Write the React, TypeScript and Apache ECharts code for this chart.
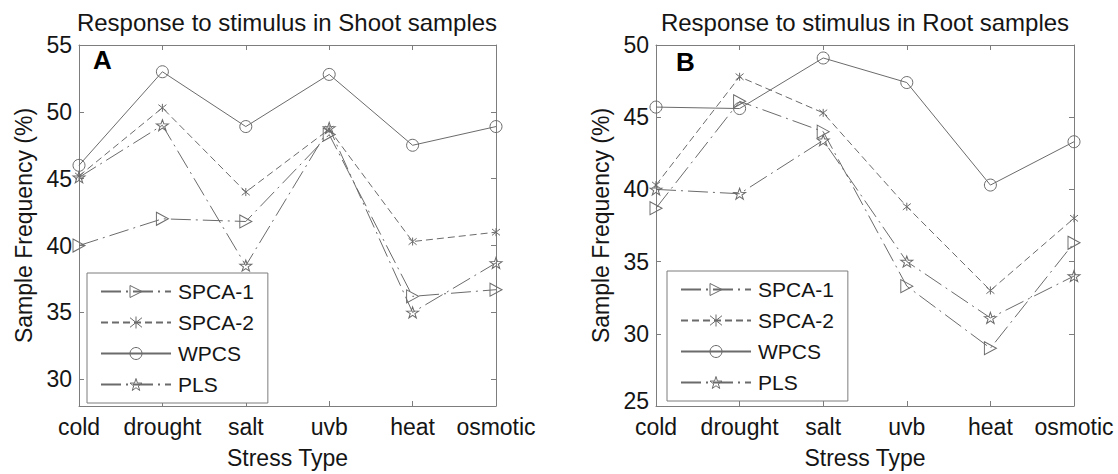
import React, { useEffect, useRef } from "react";
import * as echarts from "echarts";

const categories = ["cold", "drought", "salt", "uvb", "heat", "osmotic"];
const seriesNames = ["SPCA-1", "SPCA-2", "WPCS", "PLS"];

// Shoot samples (panel A)
const shootSPCA1 = [40.0, 42.0, 41.8, 48.3, 36.2, 36.7];
const shootSPCA2 = [45.2, 50.3, 44.0, 48.7, 40.3, 41.0];
const shootWPCS = [46.0, 53.0, 48.9, 52.8, 47.5, 48.9];
const shootPLS = [45.1, 49.0, 38.5, 48.8, 35.0, 38.7];

// Root samples (panel B)
const rootSPCA1 = [38.7, 46.1, 44.0, 33.3, 29.0, 36.3];
const rootSPCA2 = [40.3, 47.8, 45.3, 38.8, 33.0, 38.0];
const rootWPCS = [45.7, 45.6, 49.1, 47.4, 40.3, 43.3];
const rootPLS = [40.0, 39.7, 43.4, 35.0, 31.1, 34.0];

const shootRange = [28, 55];
const rootRange = [25, 50];

const titles = ["Response to stimulus in Shoot samples", "Response to stimulus in Root samples"];
const panelLetters = ["A", "B"];
const xName = "Stress Type";
const yName = "Sample Frequency (%)";

const FONT = "'Liberation Sans', Arial, Helvetica, sans-serif";
const LINE = "#6b6b6b";
const AXIS = "#7d7d7d";
const TEXT = "#151515";
const HOLLOW = "rgba(255,255,255,0)";

function starPath(): string {
  const pts: string[] = [];
  for (let k = 0; k < 10; k++) {
    const a = (-90 + k * 36) * Math.PI / 180;
    const r = k % 2 === 0 ? 10 : 3.9;
    pts.push(`${(10 + r * Math.cos(a)).toFixed(2)},${(10 + r * Math.sin(a)).toFixed(2)}`);
  }
  return "path://M" + pts.join("L") + "Z";
}

const seriesStyles: any = {
  "SPCA-1": { symbol: "path://M0,0L10,5L0,10Z", symbolSize: [12, 13], dash: [20, 5, 2, 5] },
  "SPCA-2": { symbol: "path://M1,1L9,9M9,1L1,9M5,0L5,10", symbolSize: 8, dash: [7, 4] },
  "WPCS": { symbol: "circle", symbolSize: 12, dash: "solid" },
  "PLS": { symbol: starPath(), symbolSize: [12, 11], dash: [20, 5, 2, 5] },
};

export default function App() {
  const ref = useRef<HTMLDivElement>(null);
  useEffect(() => {
    if (!ref.current) return;
    const chart = echarts.init(ref.current, null, { renderer: "svg" });

    const grids = [
      { left: 79, top: 45, width: 417, height: 362 },
      { left: 656, top: 45, width: 418, height: 362 },
    ];
    const ranges = [shootRange, rootRange];
    const dataSets = [
      [shootSPCA1, shootSPCA2, shootWPCS, shootPLS],
      [rootSPCA1, rootSPCA2, rootWPCS, rootPLS],
    ];

    const xAxis: any[] = [];
    const yAxis: any[] = [];
    grids.forEach((_, gi) => {
      const lo = ranges[gi][0];
      xAxis.push({
        gridIndex: gi, type: "category", data: categories, boundaryGap: false, position: "bottom",
        axisLine: { lineStyle: { color: AXIS, width: 1 } },
        axisTick: { inside: true, length: 5, interval: 0, lineStyle: { color: AXIS } },
        axisLabel: { color: TEXT, fontSize: 23, fontFamily: FONT, margin: 11, lineHeight: 20, interval: 0, hideOverlap: false },
        splitLine: { show: false },
        name: xName, nameLocation: "middle", nameGap: 40,
        nameTextStyle: { color: TEXT, fontSize: 23, fontFamily: FONT },
      });
      xAxis.push({
        gridIndex: gi, type: "category", data: categories, boundaryGap: false, position: "top",
        axisLine: { lineStyle: { color: AXIS, width: 1 } },
        axisTick: { inside: true, length: 5, interval: 0, lineStyle: { color: AXIS } },
        axisLabel: { show: false }, splitLine: { show: false },
      });
      yAxis.push({
        gridIndex: gi, type: "value", min: ranges[gi][0], max: ranges[gi][1], splitNumber: 5, position: "left",
        axisLine: { show: true, lineStyle: { color: AXIS, width: 1 } },
        axisTick: { show: true, inside: true, length: 5, lineStyle: { color: AXIS } },
        axisLabel: {
          color: TEXT, fontSize: 23, fontFamily: FONT, margin: 7, lineHeight: 20,
          formatter: (v: number) => (v % 5 !== 0 ? "" : v === lo ? `{lo|${v}}` : String(v)),
          rich: { lo: { fontSize: 23, fontFamily: FONT, color: TEXT, lineHeight: 20, padding: [0, 0, 10, 0] } },
        },
        splitLine: { show: false },
        name: yName, nameLocation: "middle", nameGap: 44,
        nameTextStyle: { color: TEXT, fontSize: 23, fontFamily: FONT },
      });
      yAxis.push({
        gridIndex: gi, type: "value", min: ranges[gi][0], max: ranges[gi][1], splitNumber: 5, position: "right",
        axisLine: { show: true, lineStyle: { color: AXIS, width: 1 } },
        axisTick: { show: true, inside: true, length: 5, lineStyle: { color: AXIS } },
        axisLabel: { show: false }, splitLine: { show: false },
      });
    });

    const series: any[] = [];
    dataSets.forEach((set, gi) => {
      set.forEach((vals, si) => {
        const name = seriesNames[si];
        const st = seriesStyles[name];
        series.push({
          type: "line", name, data: vals,
          xAxisIndex: gi * 2, yAxisIndex: gi * 2,
          symbol: st.symbol, symbolSize: st.symbolSize, showAllSymbol: true,
          lineStyle: { color: LINE, width: 1, type: st.dash },
          itemStyle: { color: HOLLOW, borderColor: LINE, borderWidth: 1 },
          emphasis: { disabled: true },
        });
      });
    });

    const legendCommon = {
      orient: "vertical", data: seriesNames, itemWidth: 70, itemHeight: 15, itemGap: 10,
      padding: [8, 14, 8, 13], borderColor: AXIS, borderWidth: 1, backgroundColor: "#fff",
      textStyle: { color: TEXT, fontSize: 21, fontFamily: FONT, padding: [0, 0, 0, 2] },
      itemStyle: { color: HOLLOW, borderColor: LINE, borderWidth: 1 },
      selectedMode: false,
    };

    chart.setOption({
      animation: false,
      backgroundColor: "#fff",
      grid: grids,
      xAxis, yAxis, series,
      legend: [
        { ...legendCommon, left: 87, top: 273 },
        { ...legendCommon, left: 667, top: 271 },
      ],
      graphic: [
        { type: "text", x: 287, y: 22, style: { text: titles[0], fill: TEXT, font: `24px ${FONT}`, textAlign: "center", textVerticalAlign: "middle" } },
        { type: "text", x: 865, y: 22, style: { text: titles[1], fill: TEXT, font: `24px ${FONT}`, textAlign: "center", textVerticalAlign: "middle" } },
        { type: "text", x: 93, y: 60, style: { text: panelLetters[0], fill: "#000", font: `bold 26px ${FONT}`, textAlign: "left", textVerticalAlign: "middle" } },
        { type: "text", x: 676, y: 62, style: { text: panelLetters[1], fill: "#000", font: `bold 26px ${FONT}`, textAlign: "left", textVerticalAlign: "middle" } },
      ],
    });
    return () => chart.dispose();
  }, []);
  return <div ref={ref} style={{ position: "absolute", left: 0, top: 0, width: 1118, height: 474 }} />;
}
